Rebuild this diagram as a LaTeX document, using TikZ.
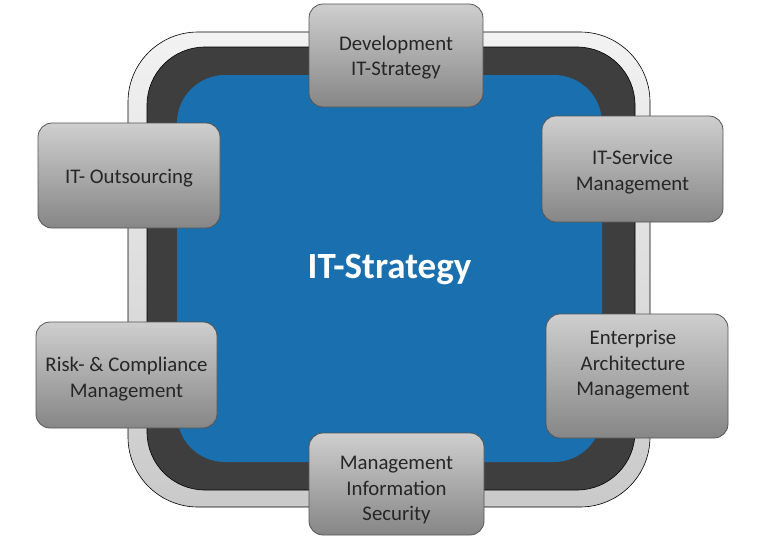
\documentclass[tikz,border=0pt]{standalone}
\usepackage{fontspec}
\setmainfont{Carlito}
\definecolor{stratblue}{HTML}{1A6FAF}
\definecolor{rimdark}{HTML}{3E3E3E}
\definecolor{boxedge}{HTML}{555555}
\tikzset{topic/.style={
        draw=boxedge, line width=0.8pt, rounded corners=14pt,
        top color=gray!38, middle color=gray!15, bottom color=gray!95,
        inner sep=0pt
  }
}
\tikzset{topictext/.style={
        align=center, inner sep=0pt, text=black!85,
        font=\fontsize{20.8}{25.5}\selectfont
  }
}
\tikzset{rim/.style={draw=black, line width=0.6pt}}

\begin{document}
\begin{tikzpicture}[x=1pt,y=-1pt]
\useasboundingbox (0,0) rectangle (768,542);
% Frame
\path[rim, top color=gray!10, bottom color=gray!42, rounded corners=70pt] (128,32) rectangle (650,507);
\path[rim, fill=rimdark, rounded corners=58pt] (147,47) rectangle (635,490);
\path[fill=stratblue, rounded corners=48pt] (177,75) rectangle (602,462);
% Title
\node[anchor=base, text=white, font=\fontsize{37}{44}\bfseries] (title) at (389.5,278) {IT-Strategy};
% Topic boxes
\node[topic, minimum width=174pt, minimum height=103pt] (dev) at (396,55.5) {};
\node[topic, minimum width=182pt, minimum height=105pt] (outsrc) at (129,175.5) {};
\node[topic, minimum width=181pt, minimum height=106pt] (itsm) at (632.5,169) {};
\node[topic, minimum width=181pt, minimum height=106pt] (risk) at (126.5,375) {};
\node[topic, minimum width=182pt, minimum height=124pt] (eam) at (637,376) {};
\node[topic, minimum width=175pt, minimum height=102pt] (mis) at (396.5,484) {};
% Topic texts
\node[topictext] (devtxt) at ([yshift=-2pt]dev.center) {Development\\IT-Strategy};
\node[topictext] (outsrctxt) at ([yshift=-3pt]outsrc.center) {IT- Outsourcing};
\node[topictext] (itsmtxt) at ([yshift=-3pt]itsm.center) {IT-Service\\Management};
\node[topictext] (risktxt) at ([yshift=-4pt]risk.center) {Risk- \& Compliance\\Management};
\node[topictext] (eamtxt) at ([xshift=-4pt,yshift=11pt]eam.center) {Enterprise\\Architecture\\Management};
\node[topictext] (mistxt) at ([yshift=-6pt]mis.center) {Management\\Information\\Security};
\end{tikzpicture}
\end{document}
